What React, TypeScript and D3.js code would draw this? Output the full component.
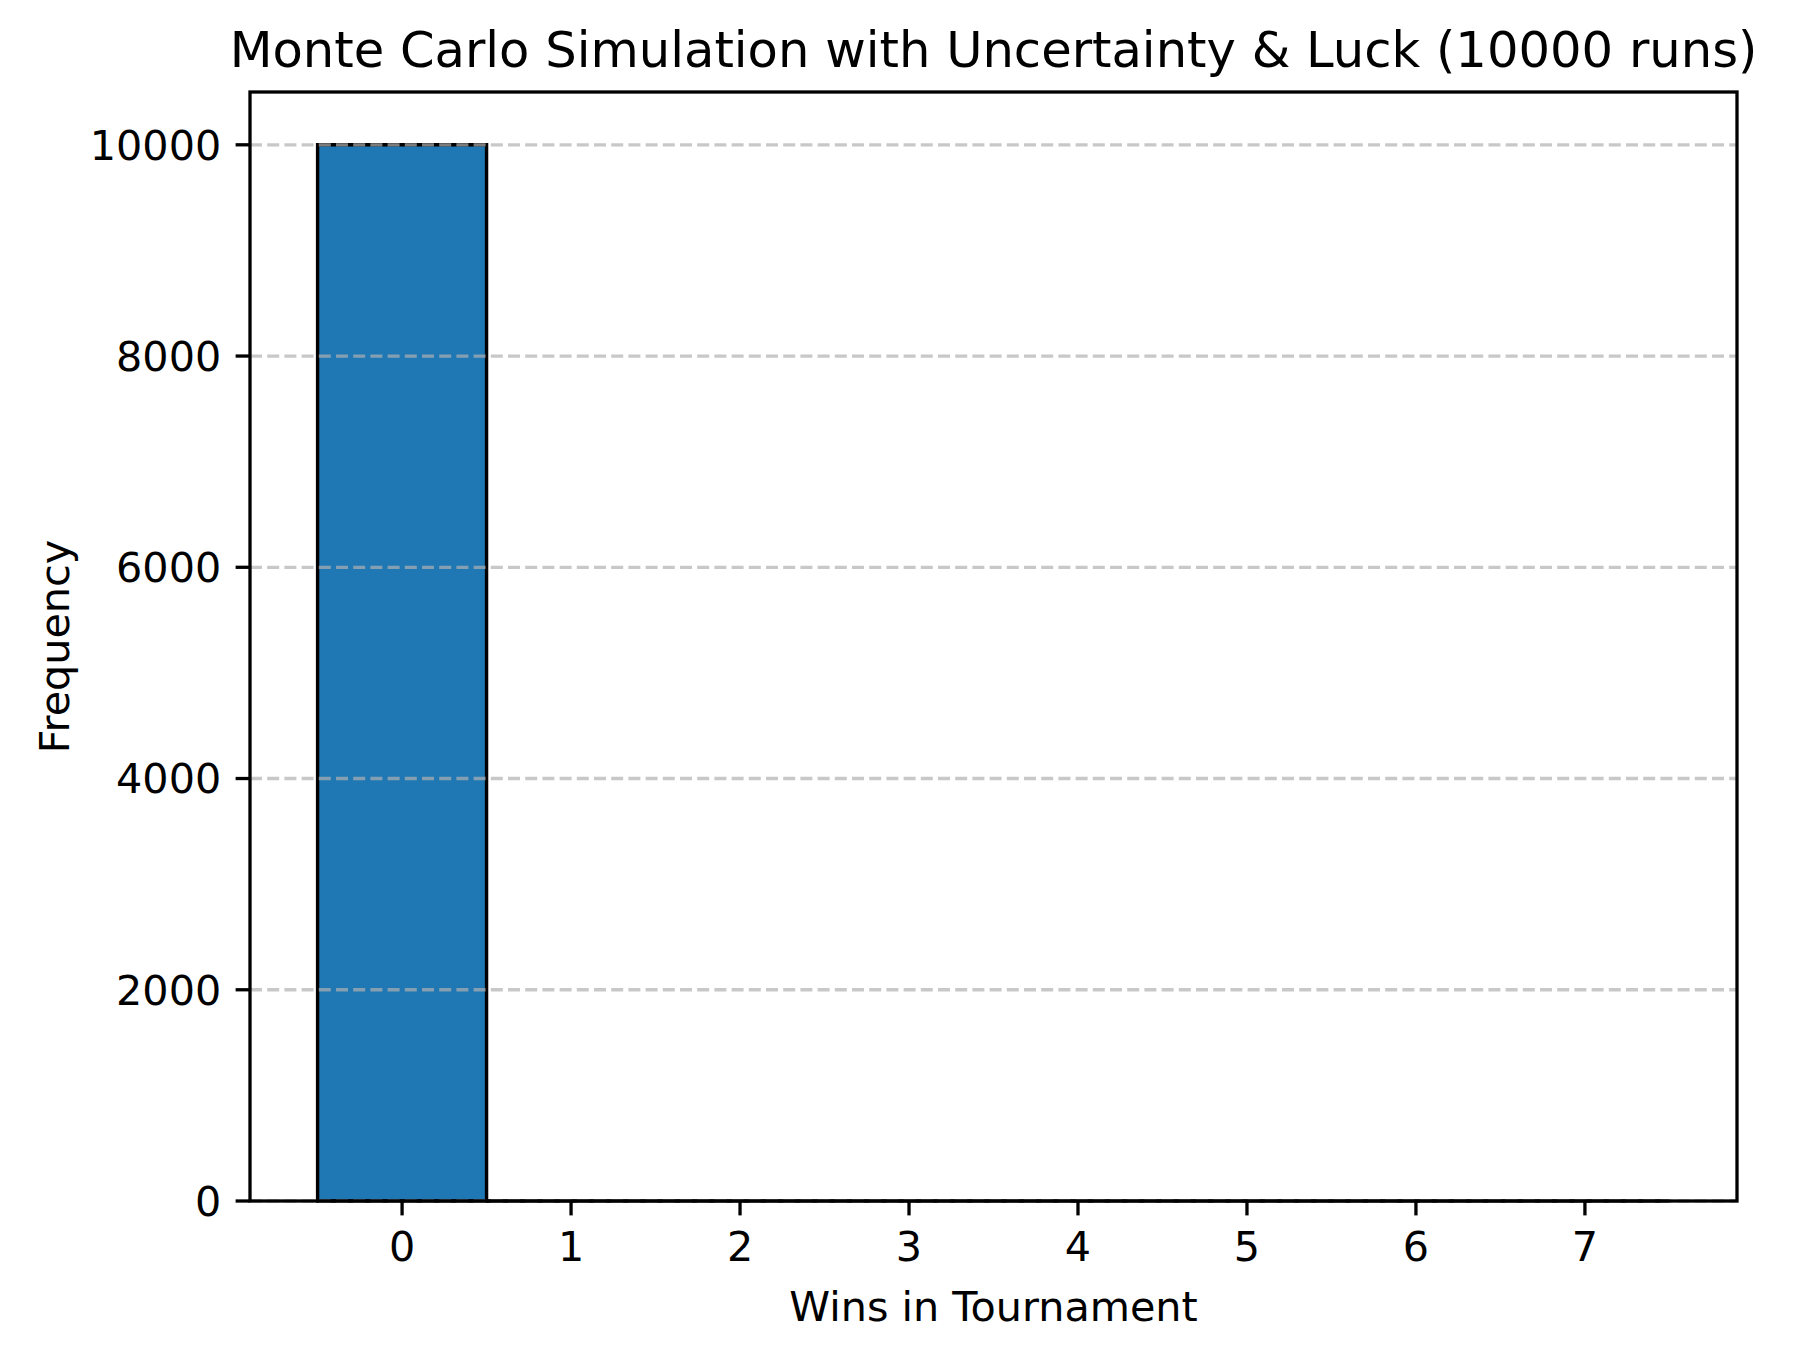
import { scaleLinear } from 'd3'

const wins = [0, 1, 2, 3, 4, 5, 6, 7]
const frequency = [10000, 0, 0, 0, 0, 0, 0, 0]
const yTicks = [0, 2000, 4000, 6000, 8000, 10000]
const title = 'Monte Carlo Simulation with Uncertainty & Luck (10000 runs)'
const xLabel = 'Wins in Tournament'
const yLabel = 'Frequency'

export default function App() {
  const width = 1794
  const height = 1361
  const left = 250
  const right = 1737
  const top = 92
  const bottom = 1201
  const font = 'DejaVu Sans, sans-serif'
  const fs = 41.3
  const tickLen = 14.4
  const pad = 14.4
  const lw = 3.3

  const x = scaleLinear().domain([-0.9, 7.9]).range([left, right])
  const y = scaleLinear().domain([0, 10500]).range([bottom, top])

  return (
    <svg
      width={width}
      height={height}
      viewBox={`0 0 ${width} ${height}`}
      style={{ position: 'absolute', left: 0, top: 0, background: '#fff' }}
      fontFamily={font}
    >
      <rect width={width} height={height} fill="#ffffff" />
      {wins.map((w, i) => {
        const x0 = x(w - 0.5)
        const x1 = x(w + 0.5)
        const y0 = y(0)
        const y1 = y(frequency[i])
        return (
          <path
            key={w}
            d={`M${x0},${y0}V${y1}H${x1}V${y0}Z`}
            fill="#1f77b4"
            stroke="#000"
            strokeWidth={3.4}
            strokeLinejoin="miter"
          />
        )
      })}
      {yTicks.map((t) => (
        <line
          key={t}
          x1={left}
          x2={right}
          y1={y(t)}
          y2={y(t)}
          stroke="#b0b0b0"
          strokeOpacity={0.7}
          strokeWidth={lw}
          strokeDasharray="12 5.2"
        />
      ))}
      <rect x={left} y={top} width={right - left} height={bottom - top} fill="none" stroke="#000" strokeWidth={lw} />
      {yTicks.map((t) => (
        <g key={t}>
          <line x1={left - tickLen} x2={left} y1={y(t)} y2={y(t)} stroke="#000" strokeWidth={lw} />
          <text x={left - tickLen - pad} y={y(t)} dy="0.36em" textAnchor="end" fontSize={fs} fill="#000">
            {t}
          </text>
        </g>
      ))}
      {wins.map((w) => (
        <g key={w}>
          <line x1={x(w)} x2={x(w)} y1={bottom} y2={bottom + tickLen} stroke="#000" strokeWidth={lw} />
          <text x={x(w)} y={bottom + tickLen + pad} dy="0.76em" textAnchor="middle" fontSize={fs} fill="#000">
            {w}
          </text>
        </g>
      ))}
      <text x={(left + right) / 2} y={bottom + 120} textAnchor="middle" fontSize={fs} fill="#000">
        {xLabel}
      </text>
      <text
        transform={`translate(54,${(top + bottom) / 2}) rotate(-90)`}
        dy="0.36em"
        textAnchor="middle"
        fontSize={fs}
        fill="#000"
      >
        {yLabel}
      </text>
      <text x={(left + right) / 2} y={top - 25} textAnchor="middle" fontSize={49.6} fill="#000">
        {title}
      </text>
    </svg>
  )
}
